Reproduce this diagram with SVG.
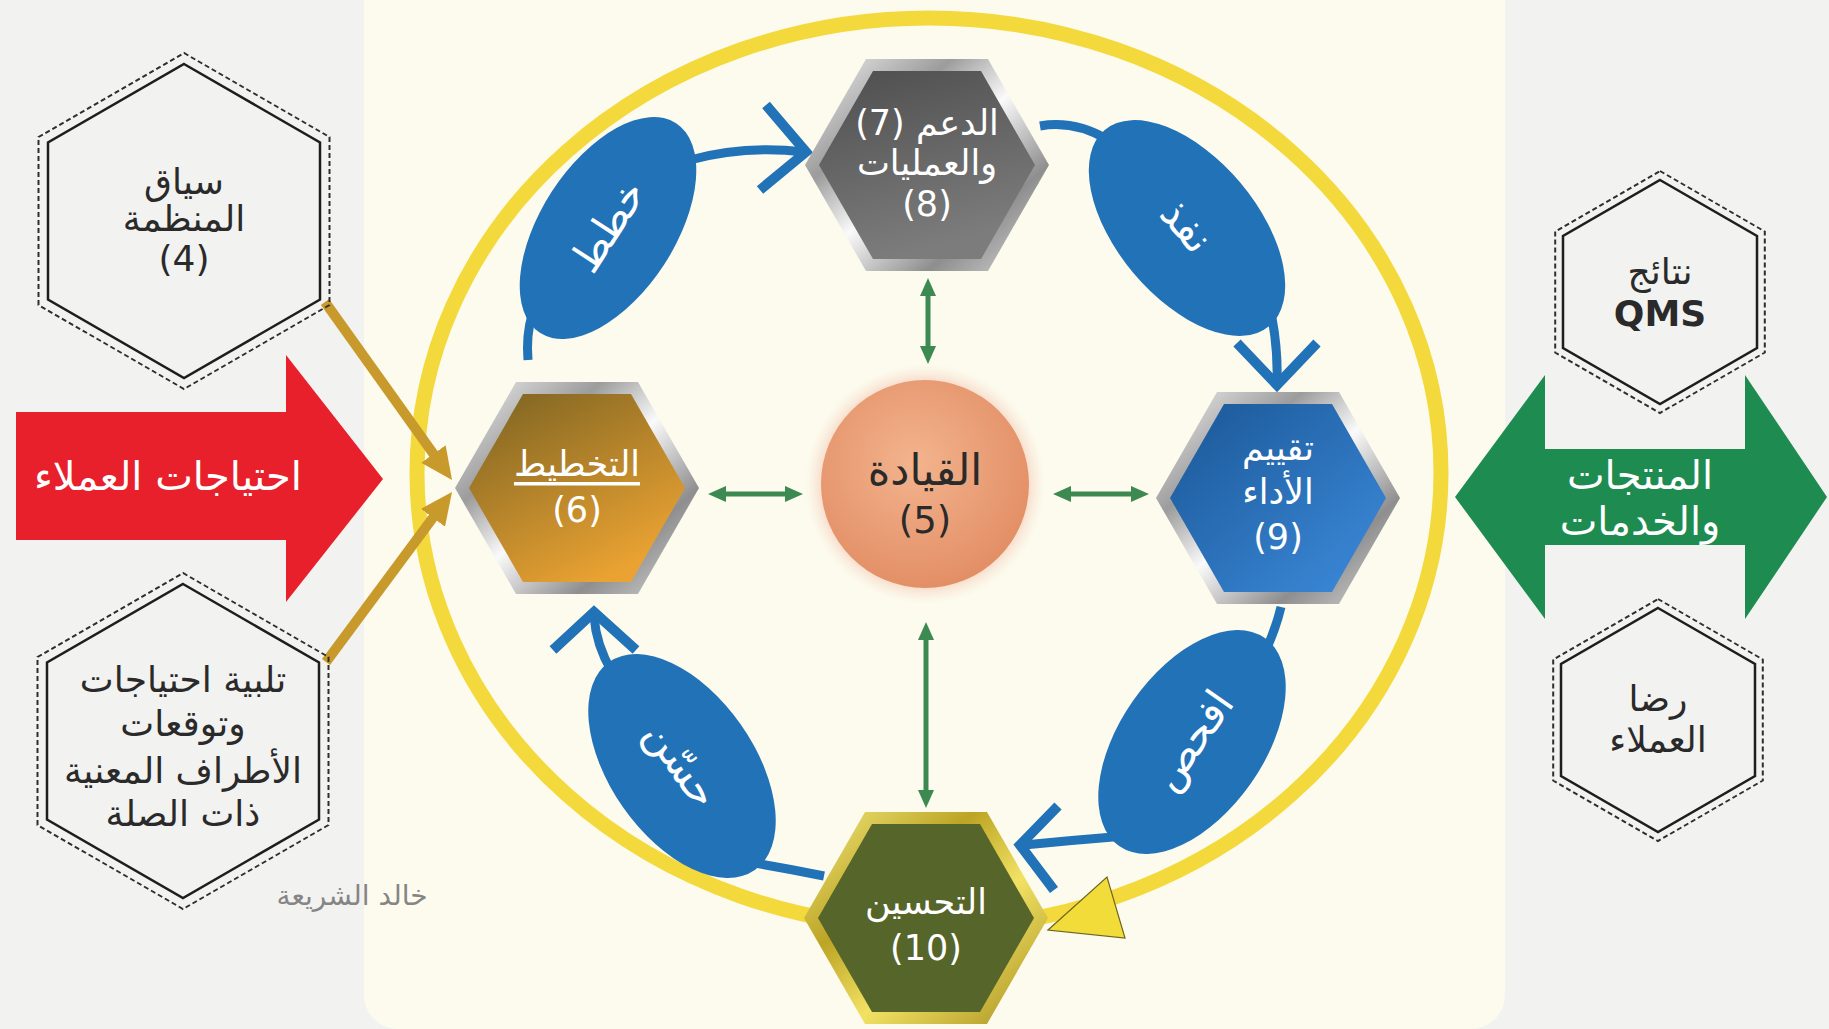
<svg xmlns="http://www.w3.org/2000/svg" width="1829" height="1029" viewBox="0 0 1829 1029">
<style>
.ar{font-family:"DejaVu Sans",sans-serif;text-anchor:middle;dominant-baseline:central}
.wt{fill:#ffffff}
.hx{font-size:35px}
.side{font-size:36px;fill:#2a2a2a}
.tag{font-size:42px;fill:#ffffff}
.blue{stroke:#2272b8;fill:none;stroke-width:9}
.chev{stroke:#2272b8;fill:none;stroke-width:10;stroke-linejoin:miter}
.green{stroke:#3c8a52;stroke-width:5;fill:none}
.gold{stroke:#c89a2c;stroke-width:10;fill:none}
.solidHex{fill:none;stroke:#1e1e1e;stroke-width:2.5}
.dashHex{fill:none;stroke:#2e2e2e;stroke-width:2;stroke-dasharray:5 3}
</style>
<defs>
<linearGradient id="silver" x1="0" y1="0" x2="1" y2="1">
<stop offset="0" stop-color="#f4f4f4"/><stop offset="0.3" stop-color="#9c9c9c"/><stop offset="0.5" stop-color="#fafafa"/><stop offset="0.75" stop-color="#8e8e8e"/><stop offset="1" stop-color="#dcdcdc"/>
</linearGradient>
<linearGradient id="goldFrame" x1="0" y1="0" x2="1" y2="1">
<stop offset="0" stop-color="#f4ea80"/><stop offset="0.35" stop-color="#bca424"/><stop offset="0.6" stop-color="#f2e264"/><stop offset="1" stop-color="#a48c1c"/>
</linearGradient>
<linearGradient id="gray" x1="0" y1="0" x2="0.3" y2="1">
<stop offset="0" stop-color="#4e4e4e"/><stop offset="1" stop-color="#7c7c7c"/>
</linearGradient>
<linearGradient id="brown" x1="0" y1="0" x2="0.6" y2="1">
<stop offset="0" stop-color="#7a6222"/><stop offset="1" stop-color="#eaa232"/>
</linearGradient>
<linearGradient id="blueFill" x1="0" y1="0" x2="1" y2="1">
<stop offset="0" stop-color="#1a5796"/><stop offset="1" stop-color="#3d8bdc"/>
</linearGradient>
<radialGradient id="lead" cx="0.45" cy="0.4" r="0.6">
<stop offset="0" stop-color="#f3b48e"/><stop offset="1" stop-color="#e38f66"/>
</radialGradient>
<radialGradient id="halo" cx="0.5" cy="0.5" r="0.5">
<stop offset="0.8" stop-color="#f4c7b0"/><stop offset="1" stop-color="#f9e6da" stop-opacity="0"/>
</radialGradient>
<polygon id="hexO" points="-122,0 -61,-106 61,-106 122,0 61,106 -61,106"/>
<polygon id="hexI" points="-108,0 -54,-94 54,-94 108,0 54,94 -54,94"/>
<polygon id="sideI" points="0,-157 136,-78.5 136,78.5 0,157 -136,78.5 -136,-78.5"/>
<polygon id="sideO" points="0,-168 145.5,-84 145.5,84 0,168 -145.5,84 -145.5,-84"/>
<polygon id="rightI" points="0,-112 97,-56 97,56 0,112 -97,56 -97,-56"/>
<polygon id="rightO" points="0,-121 104.8,-60.5 104.8,60.5 0,121 -104.8,60.5 -104.8,-60.5"/>
<marker id="gHead" markerUnits="userSpaceOnUse" markerWidth="18" markerHeight="16" viewBox="0 0 18 16" refX="8" refY="8" orient="auto-start-reverse">
<path d="M0,0 L18,8 L0,16 z" fill="#3c8a52"/>
</marker>
<marker id="goldHead" markerUnits="userSpaceOnUse" markerWidth="32" markerHeight="30" viewBox="0 0 32 30" refX="12" refY="15" orient="auto">
<path d="M0,0 L32,15 L0,30 z" fill="#c89a2c"/>
</marker>
</defs>

<rect width="1829" height="1029" fill="#f2f2f0"/>
<rect x="364" y="-40" width="1141" height="1069" rx="34" fill="#fcfbed"/>

<g id="ring">
<ellipse cx="929" cy="473" rx="512" ry="455" fill="none" stroke="#f4d93c" stroke-width="15"/>
<polygon points="1048,930 1107,877 1125,938" fill="#f2dc3a" stroke="#6e6420" stroke-width="1.2"/>
</g>

<g id="connectors">
<line class="gold" x1="325" y1="302" x2="440.4" y2="463.7" marker-end="url(#goldHead)"/>
<line class="gold" x1="326" y1="662" x2="440.1" y2="508.1" marker-end="url(#goldHead)"/>
<line class="green" x1="928" y1="288" x2="928" y2="354" marker-start="url(#gHead)" marker-end="url(#gHead)"/>
<line class="green" x1="718" y1="494" x2="793" y2="494" marker-start="url(#gHead)" marker-end="url(#gHead)"/>
<line class="green" x1="1063" y1="494" x2="1139" y2="494" marker-start="url(#gHead)" marker-end="url(#gHead)"/>
<line class="green" x1="926" y1="632" x2="926" y2="798" marker-start="url(#gHead)" marker-end="url(#gHead)"/>
<path class="blue" d="M690,160 Q745,145 804,152"/>
<polyline class="chev" points="766,105 806,152 760,190"/>
<path class="blue" d="M532,315 Q526,335 528,360"/>
<path class="blue" d="M1040,126 Q1075,120 1108,140"/>
<path class="blue" d="M1272,318 Q1278,350 1277,381"/>
<polyline class="chev" points="1237,343 1277,385 1317,343"/>
<path class="blue" d="M1281,607 Q1276,628 1266,650"/>
<path class="blue" d="M1125,836 Q1075,840 1024,845"/>
<polyline class="chev" points="1058,806 1020,845 1054,890"/>
<path class="blue" d="M612,672 Q596,645 594,616"/>
<polyline class="chev" points="553,650 594,612 636,650"/>
<path class="blue" d="M748,862 Q785,868 824,876"/>
</g>

<g id="tag-plan">
<ellipse cx="608" cy="228" rx="125" ry="67" transform="rotate(-57 608 228)" fill="#2272b8"/>
<text class="ar tag" x="608" y="226" transform="rotate(-57 608 226)">خطط</text>
</g>
<g id="tag-do">
<ellipse cx="1187" cy="228" rx="128" ry="70" transform="rotate(50 1187 228)" fill="#2272b8"/>
<text class="ar tag" x="1187" y="226" transform="rotate(50 1187 226)">نفذ</text>
</g>
<g id="tag-check">
<ellipse cx="1192" cy="742" rx="127" ry="72" transform="rotate(-55 1192 742)" fill="#2272b8"/>
<text class="ar tag" x="1192" y="740" transform="rotate(-55 1192 740)">افحص</text>
</g>
<g id="tag-act">
<ellipse cx="682" cy="766" rx="127" ry="72" transform="rotate(55 682 766)" fill="#2272b8"/>
<text class="ar tag" x="682" y="764" transform="rotate(55 682 764)">حسّن</text>
</g>

<g id="node-support" transform="translate(927 165)">
<use href="#hexO" fill="url(#silver)"/>
<use href="#hexI" fill="url(#gray)"/>
<text class="ar wt hx" x="0" y="-42">الدعم (7)</text>
<text class="ar wt hx" x="0" y="-2">والعمليات</text>
<text class="ar wt hx" x="0" y="39">(8)</text>
</g>
<g id="node-planning" transform="translate(577 488)">
<use href="#hexO" fill="url(#silver)"/>
<use href="#hexI" fill="url(#brown)"/>
<text class="ar wt hx" x="0" y="-24" text-decoration="underline">التخطيط</text>
<text class="ar wt hx" x="0" y="22">(6)</text>
</g>
<g id="node-performance" transform="translate(1278 498)">
<use href="#hexO" fill="url(#silver)"/>
<use href="#hexI" fill="url(#blueFill)"/>
<text class="ar wt hx" x="0" y="-50">تقييم</text>
<text class="ar wt hx" x="0" y="-6">الأداء</text>
<text class="ar wt hx" x="0" y="39">(9)</text>
</g>
<g id="node-improvement" transform="translate(926 918)">
<use href="#hexO" fill="url(#goldFrame)"/>
<use href="#hexI" fill="#56652a"/>
<text class="ar wt hx" x="0" y="-16">التحسين</text>
<text class="ar wt hx" x="0" y="30">(10)</text>
</g>
<g id="node-leadership">
<circle cx="925" cy="484" r="120" fill="url(#halo)"/>
<circle cx="925" cy="484" r="104" fill="url(#lead)"/>
<text class="ar" x="925" y="470" font-size="43" fill="#2a2a2a">القيادة</text>
<text class="ar" x="925" y="520" font-size="37" fill="#2a2a2a">(5)</text>
</g>

<g id="node-context" transform="translate(184 221)">
<use href="#sideO" class="dashHex"/>
<use href="#sideI" class="solidHex"/>
<text class="ar side" x="0" y="-40">سياق</text>
<text class="ar side" x="0" y="-3">المنظمة</text>
<text class="ar side" x="0" y="37">(4)</text>
</g>
<g id="node-stakeholders" transform="translate(183 741)">
<use href="#sideO" class="dashHex"/>
<use href="#sideI" class="solidHex"/>
<text class="ar side" x="0" y="-62">تلبية احتياجات</text>
<text class="ar side" x="0" y="-18">وتوقعات</text>
<text class="ar side" x="0" y="29">الأطراف المعنية</text>
<text class="ar side" x="0" y="72">ذات الصلة</text>
</g>
<g id="node-customer-needs">
<polygon points="16,412 286,412 286,355 383,479 286,602 286,540 16,540" fill="#e8202b"/>
<text class="ar wt" x="168" y="476" font-size="40">احتياجات العملاء</text>
</g>
<text class="ar" x="352" y="895" font-size="28" fill="#858585">خالد الشريعة</text>

<g id="node-products">
<polygon points="1455,497 1545,375 1545,449 1745,449 1745,375 1827,497 1745,619 1745,545 1545,545 1545,619" fill="#1e8c50"/>
<text class="ar wt" x="1640" y="475" font-size="40">المنتجات</text>
<text class="ar wt" x="1640" y="521" font-size="40">والخدمات</text>
</g>
<g id="node-qms" transform="translate(1660 292)">
<use href="#rightO" class="dashHex"/>
<use href="#rightI" class="solidHex"/>
<text class="ar side" x="0" y="-21" font-size="32">نتائج</text>
<text class="ar side" x="0" y="21" font-size="29" font-weight="bold">QMS</text>
</g>
<g id="node-satisfaction" transform="translate(1658 720)">
<use href="#rightO" class="dashHex"/>
<use href="#rightI" class="solidHex"/>
<text class="ar side" x="0" y="-22" font-size="33">رضا</text>
<text class="ar side" x="0" y="19" font-size="33">العملاء</text>
</g>
</svg>
